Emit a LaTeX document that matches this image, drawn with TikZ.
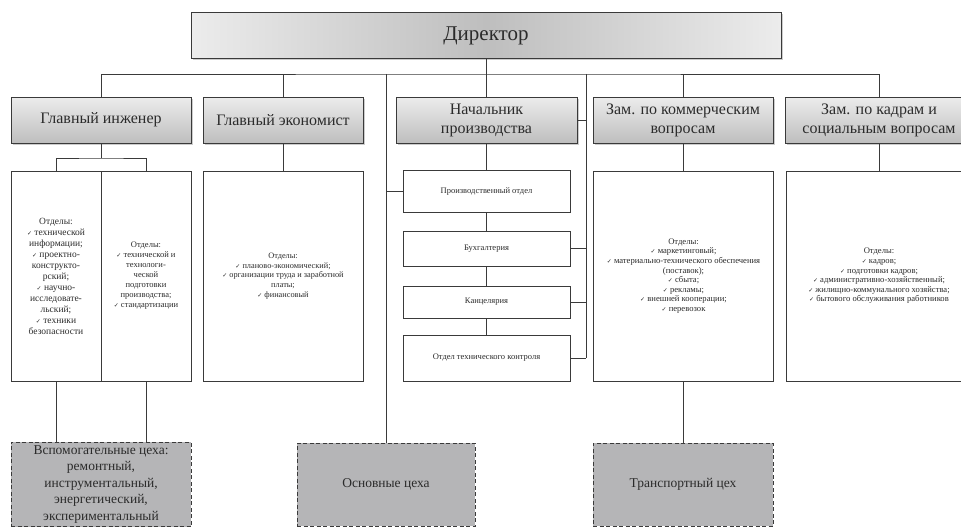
\documentclass[tikz,border=0pt]{standalone}
\usepackage{fontspec}
\setmainfont{Liberation Serif}
\newfontfamily\tickfont{DejaVu Sans}
\usepackage{xcolor}
\definecolor{linegray}{HTML}{3A3A3A}
\definecolor{boxlight}{HTML}{ECECEC}
\definecolor{boxdark}{HTML}{BEBEBE}
\definecolor{shopgray}{HTML}{B5B5B7}
\definecolor{txt}{HTML}{2B2B2B}
\usepackage{tikz}
\usetikzlibrary{shadows}
\newcommand{\chk}{{\tickfont\fontsize{6}{6}\selectfont ✓}\ }

\begin{document}
\begin{tikzpicture}[x=1pt, y=-1pt,
  wire/.style={draw=linegray, line width=0.9pt},
  headbox/.style={draw=linegray, line width=1pt, top color=boxlight, bottom color=boxdark,
    drop shadow={shadow xshift=1.5pt, shadow yshift=-1.5pt, opacity=0.4},
    minimum height=46pt, align=center, inner sep=2pt,
    font=\rmfamily\fontsize{16}{19}\selectfont, text=txt},
  deptbox/.style={draw=linegray, line width=0.9pt, fill=white, minimum height=210pt,
    align=center, inner sep=2pt, text=txt, font=\rmfamily\fontsize{8.6}{9.6}\selectfont},
  subbox/.style={draw=linegray, line width=0.9pt, fill=white, minimum width=167pt,
    align=center, font=\rmfamily\fontsize{8.5}{10}\selectfont, text=txt},
  shopbox/.style={draw=linegray, line width=0.9pt, dash pattern=on 4pt off 2.5pt,
    fill=shopgray, minimum height=83pt, align=center,
    font=\rmfamily\fontsize{13.5}{16.5}\selectfont, text=txt}
]
\useasboundingbox (0,0) rectangle (961,527);

% director
\node[headbox, left color=boxlight, right color=boxlight, middle color=boxdark,
  minimum width=590pt, font=\rmfamily\fontsize{21}{24}\selectfont] (dir) at (486,36) {Директор};

% deputies
\node[headbox, minimum width=180pt] (gi) at (101,120) {Главный инженер};
\node[headbox, minimum width=160pt] (ge) at (283,120) {Главный экономист};
\node[headbox, minimum width=181pt] (np) at (486.5,120) {Начальник\\производства};
\node[headbox, minimum width=180pt] (zk) at (683,120) {Зам. по коммерческим\\вопросам};
\node[headbox, minimum width=188pt] (kad) at (879,120) {Зам. по кадрам и\\социальным вопросам};

% departments
\node[deptbox, minimum width=90pt, font=\rmfamily\fontsize{9.5}{11}\selectfont] (gi1) at (56,276) {Отделы:\\
  \chk технической\\информации;\\\chk проектно-\\конструкто-\\рский;\\\chk научно-\\
  исследовате-\\льский;\\\chk техники\\безопасности};
\node[deptbox, minimum width=90pt, font=\rmfamily\fontsize{8.5}{10}\selectfont] (gi2) at (146,276) {Отделы:\\
  \chk технической и\\технологи-\\ческой\\подготовки\\производства;\\\chk стандартизации};
\node[deptbox, minimum width=160pt, font=\rmfamily\fontsize{8.3}{9.6}\selectfont] (ged) at (283,276) {Отделы:\\\chk планово-экономический;\\
  \chk организации труда и заработной\\платы;\\\chk финансовый};
\node[deptbox, minimum width=180pt] (zkd) at (683.5,276) {Отделы:\\\chk маркетинговый;\\
  \chk материально-технического обеспечения\\(поставок);\\\chk сбыта;\\\chk рекламы;\\
  \chk внешней кооперации;\\\chk перевозок};
\node[deptbox, minimum width=186pt] (kadd) at (879,276) {Отделы:\\\chk кадров;\\
  \chk подготовки кадров;\\\chk административно-хозяйственный;\\
  \chk жилищно-коммунального хозяйства;\\\chk бытового обслуживания работников};

% production chain
\node[subbox, minimum height=42pt] (prod) at (486.5,191) {Производственный отдел};
\node[subbox, minimum height=35pt] (buh) at (486.5,248.5) {Бухгалтерия};
\node[subbox, minimum height=32pt] (kanc) at (486.5,302) {Канцелярия};
\node[subbox, minimum height=46pt] (otk) at (486.5,358) {Отдел технического контроля};

% shops
\node[shopbox, minimum width=180pt] (vsp) at (101,484.5) {Вспомогательные цеха:\\ремонтный,\\
  инструментальный,\\энергетический,\\экспериментальный};
\node[shopbox, minimum width=178pt] (osn) at (386,484.5) {Основные цеха};
\node[shopbox, minimum width=180pt] (trans) at (683,484.5) {Транспортный цех};

% connectors
\coordinate (bus) at (486,74);
\coordinate (busl) at (386,74);
\coordinate (busr) at (586,74);
\coordinate (gisplit) at (101,158);
\draw[wire] (dir.south) -- (bus);
\draw[wire] (gi.north) |- (bus) -| (kad.north);
\draw[wire] (ge.north) -- (ge.north |- bus);
\draw[wire] (np.north) -- (np.north |- bus);
\draw[wire] (zk.north) -- (zk.north |- bus);
\draw[wire] (busl) -- (osn.north);
\draw[wire] (busr) -- (otk.east -| busr);
\draw[wire] (gi.south) -- (gisplit);
\draw[wire] (gi1.north) |- (gisplit) -| (gi2.north);
\draw[wire] (ge.south) -- (ged.north);
\draw[wire] (zk.south) -- (zk.south |- zkd.north);
\draw[wire] (kad.south) -- (kadd.north);
\draw[wire] (np.south) -- (prod.north);
\draw[wire] (prod) -- (buh);
\draw[wire] (buh) -- (kanc);
\draw[wire] (kanc) -- (otk);
\draw[wire] (prod.west) -- (prod.west -| busl);
\draw[wire] (np.east) -- (np.east -| busr);
\draw[wire] (buh.east) -- (buh.east -| busr);
\draw[wire] (kanc.east) -- (kanc.east -| busr);
\draw[wire] (otk.east) -- (otk.east -| busr);
\draw[wire] (gi1.south) -- (gi1.south |- vsp.north);
\draw[wire] (gi2.south) -- (gi2.south |- vsp.north);
\draw[wire] (zkd.south -| trans.north) -- (trans.north);
\end{tikzpicture}
\end{document}
